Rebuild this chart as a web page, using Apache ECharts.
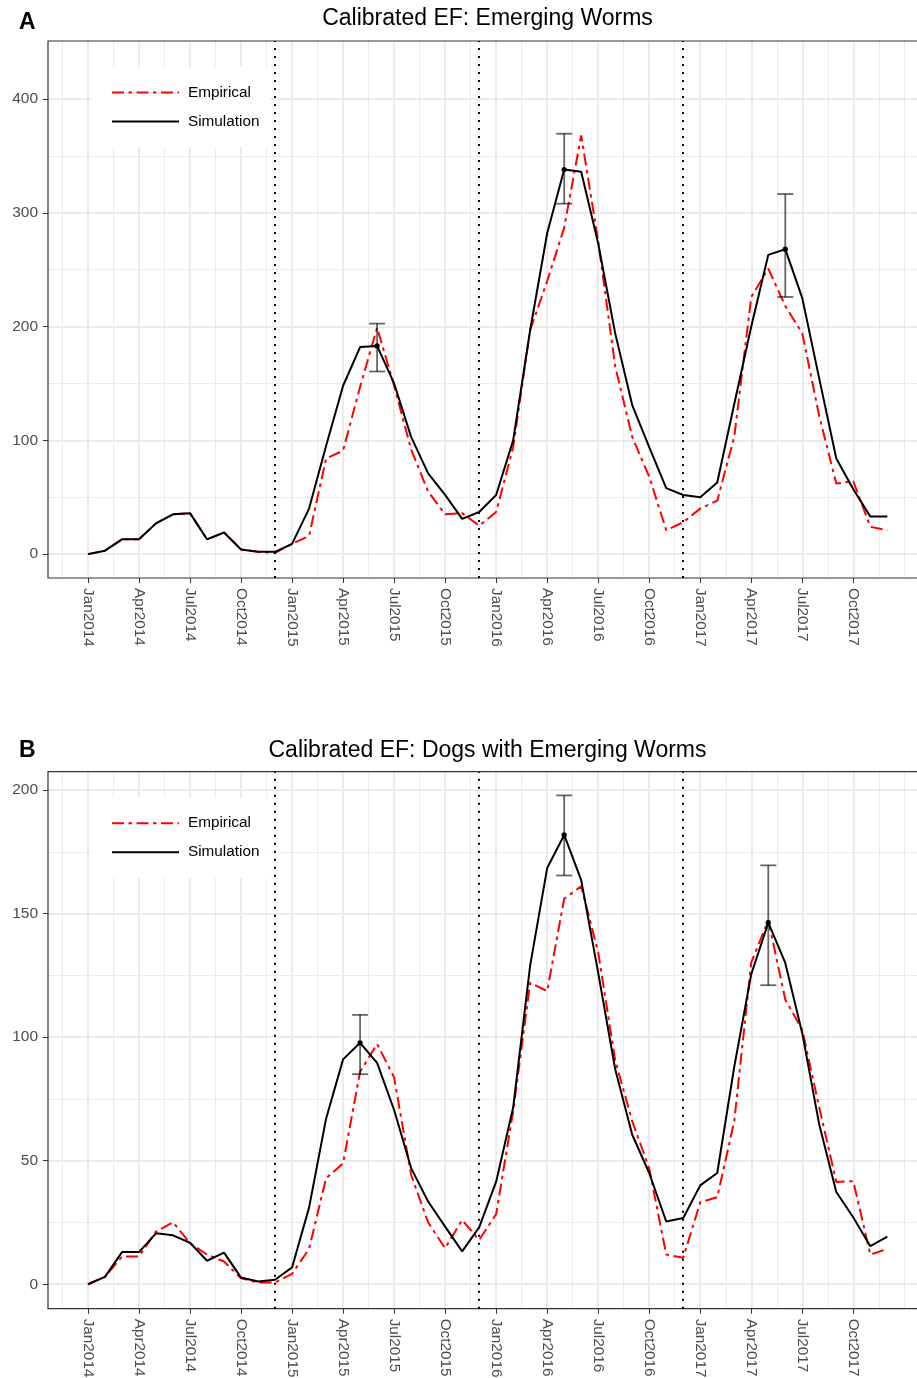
<!DOCTYPE html>
<html>
<head>
<meta charset="utf-8">
<script src="https://cdn.jsdelivr.net/npm/echarts@6/dist/echarts.min.js"></script>
<style>
  html, body { margin: 0; padding: 0; background: #fff; }
  #chart { width: 917px; height: 1378px; }
</style>
</head>
<body>
<div id="chart"></div>
<script>
// monthly values, Jan 2014 .. Dec 2017 (index 0..47)
const empiricalA = [0, 3, 13, 13, 27, 35, 36, 13, 19, 4, 2, 1,
  9, 16, 84, 91, 147, 199, 148, 92, 55, 35, 36, 25,
  37, 94, 197, 240, 287, 368, 275, 165, 103, 68, 21, 28,
  40, 47, 103, 226, 251, 218, 194, 121, 62, 64, 24, 21];
const simulationA = [0, 3, 13, 13, 27, 35, 36, 13, 19, 4, 2, 2,
  9, 40, 95, 148, 182, 183, 150, 103, 71, 52, 31, 37,
  52, 100, 197, 282, 338, 336, 273, 194, 131, 94, 58, 52,
  50, 63, 132, 200, 263, 268, 225, 154, 84, 57, 33, 33];
const empiricalB = [0, 3, 11.2, 11.2, 21.3, 25.1, 16.6, 12, 9.2, 2.4, 0.7, 0.7,
  4.2, 14.3, 42.9, 48.9, 86, 97.2, 83.7, 44.2, 25, 14.6, 26, 17.9,
  28.4, 70, 122, 118.6, 156, 161, 134.3, 90.6, 66, 46.9, 12, 10.7,
  33.2, 35.2, 66, 130.2, 147.3, 115.2, 102.9, 71.4, 41.4, 41.7, 12, 14.3];
const simulationB = [0, 3, 13, 13, 20.6, 19.8, 16.8, 9.5, 12.8, 2.7, 1.1, 1.8,
  6.8, 31, 67, 91, 97.7, 89.6, 70.5, 47, 33.5, 23.3, 13.3, 23,
  41.5, 71.5, 129, 168.4, 181.8, 163.5, 126, 87, 60.5, 45, 25.4, 26.8,
  40, 45, 88, 125.5, 146.3, 130, 101.5, 64.5, 37.3, 27, 15.4, 19.3];

// error bars: month index, low, high
const errMonthA = [17, 28, 41];
const errLowA = [160.5, 308, 226];
const errHighA = [202.6, 369.5, 316.5];
const errMonthB = [16, 28, 40];
const errLowB = [85, 165.4, 121];
const errHighB = [109, 197.8, 169.5];

// dotted vertical lines (1 Dec of each year)
const vlineMonths = [11, 23, 35];

const xTickValues = [0, 3, 6, 9, 12, 15, 18, 21, 24, 27, 30, 33, 36, 39, 42, 45];
const xTickLabels = ['Jan2014', 'Apr2014', 'Jul2014', 'Oct2014', 'Jan2015', 'Apr2015', 'Jul2015', 'Oct2015',
  'Jan2016', 'Apr2016', 'Jul2016', 'Oct2016', 'Jan2017', 'Apr2017', 'Jul2017', 'Oct2017'];
const xMinorValues = [-1.5, 1.5, 4.5, 7.5, 10.5, 13.5, 16.5, 19.5, 22.5, 25.5, 28.5, 31.5, 34.5, 37.5, 40.5, 43.5, 46.5, 48];

const yTicksA = [0, 100, 200, 300, 400];
const yMinorA = [50, 150, 250, 350];
const yTicksB = [0, 50, 100, 150, 200];
const yMinorB = [25, 75, 125, 175];

const FONT = "'Liberation Sans', Arial, Helvetica, sans-serif";
const xMin = -2.35, xMax = 49.35;

function renderErrorBar(params, api) {
  const x = api.value(0);
  const lo = api.coord([x, api.value(1)]);
  const hi = api.coord([x, api.value(2)]);
  const mid = api.coord([x, api.value(3)]);
  const w = 8;
  const style = { stroke: 'rgba(0,0,0,0.6)', lineWidth: 1.8, fill: null };
  return {
    type: 'group',
    children: [
      { type: 'line', shape: { x1: lo[0], y1: lo[1], x2: hi[0], y2: hi[1] }, style: style },
      { type: 'line', shape: { x1: lo[0] - w, y1: lo[1], x2: lo[0] + w, y2: lo[1] }, style: style },
      { type: 'line', shape: { x1: hi[0] - w, y1: hi[1], x2: hi[0] + w, y2: hi[1] }, style: style },
      { type: 'circle', shape: { cx: mid[0], cy: mid[1], r: 2.6 }, style: { fill: '#000' } }
    ]
  };
}

function makePanel(i, p) {
  const ax = 2 * i;
  const grid = {
    left: 48, top: p.top, width: 879.3, height: 537,
    show: true, borderColor: '#333', borderWidth: 1.2, backgroundColor: 'transparent',
    z: 1, outerBoundsMode: 'none', containLabel: false
  };
  const xAxes = [{
    type: 'value', gridIndex: i, min: xMin, max: xMax, position: 'bottom',
    axisLine: { show: false, onZero: false },
    axisTick: { show: true, length: 5, customValues: xTickValues, lineStyle: { color: '#333', width: 1 } },
    axisLabel: {
      customValues: xTickValues, rotate: -90, margin: 10, fontSize: 15.3, color: '#4D4D4D', fontFamily: FONT,
      formatter: v => xTickLabels[xTickValues.indexOf(v)]
    },
    splitLine: { show: true, lineStyle: { color: '#EBEBEB', width: 2 } }
  }, {
    type: 'value', gridIndex: i, min: xMin, max: xMax, position: 'top',
    axisLine: { show: false, onZero: false },
    axisTick: { show: false, customValues: xMinorValues },
    axisLabel: { show: false, customValues: xMinorValues },
    splitLine: { show: true, lineStyle: { color: '#EBEBEB', width: 1 } }
  }];
  const yAxes = [{
    type: 'value', gridIndex: i, min: p.yMin, max: p.yMax, position: 'left',
    axisLine: { show: false, onZero: false },
    axisTick: { show: true, length: 5, customValues: p.yTicks, lineStyle: { color: '#333', width: 1 } },
    axisLabel: { customValues: p.yTicks, margin: 10, fontSize: 15.5, color: '#4D4D4D', fontFamily: FONT },
    splitLine: { show: true, lineStyle: { color: '#EBEBEB', width: 2 } }
  }, {
    type: 'value', gridIndex: i, min: p.yMin, max: p.yMax, position: 'right',
    axisLine: { show: false, onZero: false },
    axisTick: { show: false, customValues: p.yMinor },
    axisLabel: { show: false, customValues: p.yMinor },
    splitLine: { show: true, lineStyle: { color: '#EBEBEB', width: 1 } }
  }];
  const series = [{
    name: 'Empirical', type: 'line', xAxisIndex: ax, yAxisIndex: ax,
    data: p.emp.map((v, m) => [m, v]),
    symbol: 'none', z: 2,
    lineStyle: { color: '#FF0000', width: 2, type: [12, 4.5, 3.5, 4.5] },
    itemStyle: { color: '#FF0000' },
    markLine: {
      silent: true, symbol: ['none', 'none'], label: { show: false },
      lineStyle: { color: '#000', width: 2, type: [2, 6] },
      data: vlineMonths.map(m => ({ xAxis: m }))
    }
  }, {
    name: 'Simulation', type: 'line', xAxisIndex: ax, yAxisIndex: ax,
    data: p.sim.map((v, m) => [m, v]),
    symbol: 'none', z: 3,
    lineStyle: { color: '#000', width: 2, type: 'solid' },
    itemStyle: { color: '#000' }
  }, {
    type: 'custom', xAxisIndex: ax, yAxisIndex: ax, z: 4, silent: true,
    renderItem: renderErrorBar,
    encode: { x: 0, y: [1, 2, 3] },
    data: p.errMonth.map((m, k) => [m, p.errLow[k], p.errHigh[k], p.sim[m]])
  }];
  const legend = {
    data: ['Empirical', 'Simulation'], orient: 'vertical',
    left: 92, top: p.top + 26, padding: [18, 11, 18, 19],
    backgroundColor: '#fff', itemWidth: 67, itemHeight: 14, itemGap: 14,
    selectedMode: false,
    itemStyle: { opacity: 0 },
    textStyle: { fontSize: 15.3, color: '#000', fontFamily: FONT, padding: [0, 0, 0, 4] }
  };
  const graphic = [{
    type: 'text', x: 487.5, y: p.titleY,
    style: { text: p.title, fontSize: 23, fill: '#000', fontFamily: FONT, align: 'center', verticalAlign: 'middle' }
  }, {
    type: 'text', x: 19, y: p.tagY,
    style: { text: p.tag, fontSize: 23, fontWeight: 'bold', fill: '#000', fontFamily: FONT, align: 'left', verticalAlign: 'middle' }
  }];
  return { grid, xAxes, yAxes, series, legend, graphic };
}

const panels = [
  makePanel(0, {
    top: 41, yMin: -21, yMax: 451, yTicks: yTicksA, yMinor: yMinorA,
    emp: empiricalA, sim: simulationA, errMonth: errMonthA, errLow: errLowA, errHigh: errHighA,
    title: 'Calibrated EF: Emerging Worms', tag: 'A', titleY: 19, tagY: 23
  }),
  makePanel(1, {
    top: 771.7, yMin: -9.9, yMax: 207.4, yTicks: yTicksB, yMinor: yMinorB,
    emp: empiricalB, sim: simulationB, errMonth: errMonthB, errLow: errLowB, errHigh: errHighB,
    title: 'Calibrated EF: Dogs with Emerging Worms', tag: 'B', titleY: 751, tagY: 750.7
  })
];

const chart = echarts.init(document.getElementById('chart'));
chart.setOption({
  animation: false,
  backgroundColor: '#fff',
  grid: panels.map(p => p.grid),
  xAxis: panels.flatMap(p => p.xAxes),
  yAxis: panels.flatMap(p => p.yAxes),
  legend: panels.map(p => p.legend),
  series: panels.flatMap(p => p.series),
  graphic: panels.flatMap(p => p.graphic)
});
</script>
</body>
</html>
